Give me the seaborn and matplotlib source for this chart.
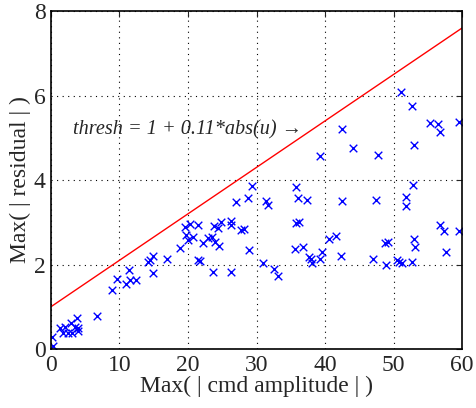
import numpy as np
import pandas as pd
import matplotlib
matplotlib.use("Agg")
import matplotlib.pyplot as plt
import seaborn as sns

# max |cmd amplitude| per run
cmd_amp = [0.1, 0.3, 1.3, 2.0, 1.8, 2.5, 2.9, 3.1, 3.8, 4.0, 4.0, 3.5, 6.7,
           8.9, 9.6, 11.0, 11.4, 11.6, 12.4, 14.1, 14.4, 14.9, 14.9, 17.0, 18.9,
           19.5, 20.3, 21.5, 19.7, 20.7, 20.0, 22.2, 22.9, 23.5, 24.0, 24.5, 23.8,
           24.4, 24.8, 26.3, 26.3, 27.8, 28.2, 28.9, 21.5, 21.8, 23.6, 26.2, 27.0,
           28.7, 29.3,
           31.0, 32.5, 33.2, 31.4, 31.6, 35.7, 36.1, 37.3, 35.6, 36.8, 35.8, 36.2,
           37.6, 37.9, 38.1, 39.3, 39.5, 39.3,
           40.5, 41.6, 42.3, 42.5, 42.4, 44.0, 47.7, 47.4, 47.05, 48.9, 48.8, 49.2,
           50.5, 50.8, 51.2, 52.7, 53.0, 53.1, 57.7, 56.8, 57.3, 59.6, 51.8, 51.8,
           52.8, 53.0, 51.1, 52.66, 55.3, 56.5, 56.7, 59.6]
# max |residual| per run
residual = [0.28, 0.08, 0.5, 0.53, 0.37, 0.37, 0.61, 0.37, 0.73, 0.5, 0.42, 0.53, 0.77,
            1.40, 1.65, 1.54, 1.87, 1.63, 1.63, 2.07, 2.11, 2.2, 1.81, 2.12, 2.38,
            2.88, 2.97, 2.93, 2.70, 2.66, 2.58, 2.52, 2.62, 2.66, 2.54, 2.44, 2.91,
            2.86, 3.01, 3.04, 2.93, 2.82, 2.83, 2.34, 2.11, 2.09, 1.83, 1.83, 3.49,
            3.57, 3.87,
            2.03, 1.89, 1.73, 3.51, 3.41, 3.83, 3.58, 3.53, 2.36, 2.41, 2.99, 3.01,
            2.17, 2.12, 2.03, 2.12, 2.3, 4.57,
            2.6, 2.67, 2.19, 3.51, 5.2, 4.76, 4.59, 3.53, 2.12, 1.99, 2.5, 2.54,
            2.11, 2.07, 2.04, 2.07, 2.6, 2.42, 2.3, 2.93, 2.8, 2.8, 3.59, 3.38,
            3.88, 4.83, 6.09, 5.75, 5.34, 5.32, 5.14, 5.38]

thresh_u = [0, 60]
thresh_y = [1.0, 7.6]

df = pd.DataFrame({"amp": cmd_amp, "res": residual})

sns.set_style("white")
plt.rcParams['font.family'] = ['Liberation Serif', 'DejaVu Serif']

fig = plt.figure(figsize=(4.76, 4.08), dpi=100)
ax = fig.add_axes([0.107, 0.1446, 0.864, 0.8284])

sns.lineplot(x=thresh_u, y=thresh_y, color='red', linewidth=1.0, ax=ax)
sns.scatterplot(data=df, x="amp", y="res", marker='x', color='blue',
                s=30, linewidth=1.0, ax=ax)

ax.set_xlim(0, 60)
ax.set_ylim(0, 8)
ax.set_xticks([0, 10, 20, 30, 40, 50, 60])
ax.set_yticks([0, 2, 4, 6, 8])
ax.grid(True, color='black', linestyle=(0, (1, 4)), linewidth=0.8)
ax.tick_params(direction='in', length=4, labelsize=17, width=0.8,
               top=True, right=True, pad=4)
for s in ax.spines.values():
    s.set_color('black')
    s.set_linewidth(1.2)

ax.set_xlabel("Max( | cmd amplitude | )", fontsize=17, labelpad=0)
ax.set_ylabel("Max( | residual | )", fontsize=17, labelpad=2)

ax.text(3.2, 5.18, "thresh = 1 + 0.11*abs(u) \u2192", fontsize=14.6,
        style='italic', ha='left', va='center')

fig.savefig("out.png", dpi=100)
